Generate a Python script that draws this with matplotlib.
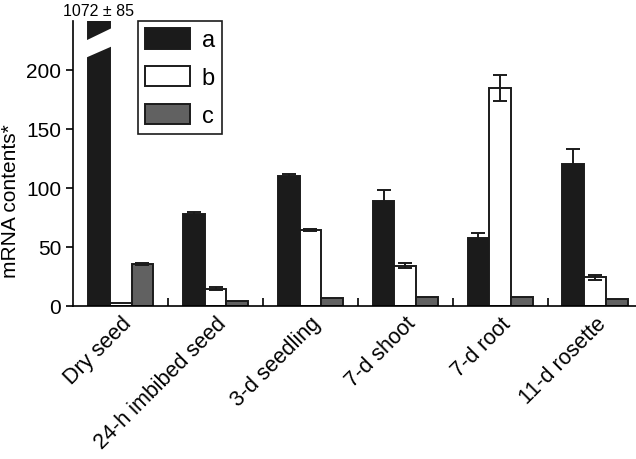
import numpy as np
import matplotlib
matplotlib.use("Agg")
import matplotlib.pyplot as plt
from matplotlib.patches import Polygon

plt.rcParams["font.family"] = ["Liberation Sans", "DejaVu Sans"]

# data
categories = ["Dry seed", "24-h imbibed seed", "3-d seedling", "7-d shoot", "7-d root", "11-d rosette"]
series_names = ["a", "b", "c"]
a_vals = [1072, 78, 110, 89, 57, 120]
a_err = [85, 1.5, 1.5, 9, 5, 13]
b_vals = [2, 14.5, 64.5, 34, 184, 24]
b_err = [0, 1.2, 0.8, 2, 11, 2.5]
c_vals = [35.5, 4.5, 7, 7.5, 7.5, 5.5]
c_err = [1, 0, 0, 0, 0, 0]

YMAX = 241
colors = ["#1b1b1b", "white", "#616161"]

fig = plt.figure(figsize=(6.36, 4.6), dpi=100)
ax = fig.add_axes([0.115, 0.333, 0.885, 0.619])

x = np.arange(len(categories))
w = 0.23
for k, (vals, errs) in enumerate([(a_vals, a_err), (b_vals, b_err), (c_vals, c_err)]):
    pos = x + (k - 1) * w
    ax.bar(pos, vals, width=w, color=colors[k], edgecolor="#1b1b1b",
           linewidth=1.4, label=series_names[k], zorder=2)
    for px, v, e in zip(pos, vals, errs):
        if e > 0 and v < YMAX:
            ax.errorbar(px, v, yerr=e, fmt="none", ecolor="#1b1b1b",
                        elinewidth=1.4, capsize=5, capthick=1.4, zorder=3)

# break mark on the off-scale bar
x0 = x[0] - w - w / 2 - 0.02
x1 = x[0] - w + w / 2 + 0.02
ax.add_patch(Polygon([(x0, 210), (x0, 224.5), (x1, 235), (x1, 219.5)],
                     closed=True, facecolor="white", edgecolor="none", zorder=4))
ax.text(x[0] - w, 1.012, f"{a_vals[0]} \u00b1 {a_err[0]}", transform=ax.get_xaxis_transform(),
        ha="center", va="bottom", fontsize=11.5, clip_on=False)

ax.set_xlim(-0.5, 5.43)
ax.set_ylim(0, YMAX)
ax.set_yticks([0, 50, 100, 150, 200])
ax.tick_params(axis="y", labelsize=15, length=5, width=1.2, direction="out")
ax.set_xticks(x)
ax.set_xticklabels(categories, rotation=45, ha="right", rotation_mode="anchor", fontsize=15.5)
ax.tick_params(axis="x", which="major", length=0, pad=5)
ax.set_xticks(x[:-1] + 0.5, minor=True)
ax.tick_params(axis="x", which="minor", direction="in", length=6, width=1.2)

for s in ["top", "right"]:
    ax.spines[s].set_visible(False)
for s in ["left", "bottom"]:
    ax.spines[s].set_linewidth(1.2)

ax.set_ylabel("mRNA contents*", fontsize=15)
ax.yaxis.set_label_coords(-0.095, 0.37)

leg = ax.legend(loc="upper left", bbox_to_anchor=(0.115, 1.0), borderaxespad=0,
                fontsize=17, handlelength=1.9, handleheight=0.95, labelspacing=0.62,
                handletextpad=0.5, borderpad=0.3, fancybox=False, framealpha=1)
leg.get_frame().set_edgecolor("#1b1b1b")
leg.get_frame().set_linewidth(1.2)

fig.savefig("out.png", dpi=100)
